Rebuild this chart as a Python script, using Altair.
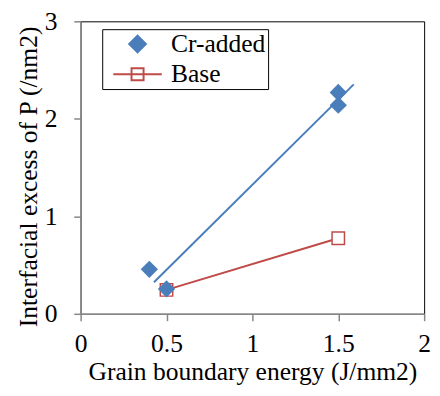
import altair as alt
import pandas as pd

series_names = ["Cr-added", "Base"]
cr_x = [0.40, 0.50, 1.50, 1.50]
cr_y = [0.456, 0.255, 2.27, 2.14]
base_x = [0.50, 1.50]
base_y = [0.245, 0.775]
x_ticks = [0, 0.5, 1, 1.5, 2]
y_ticks = [0, 1, 2, 3]
trend_extent = [0.427, 1.59]

blue = "#4a7ebb"
red = "#be4b48"
font = "Liberation Serif"
fs = 26

cr = pd.DataFrame({"x": cr_x, "y": cr_y, "series": series_names[0]})
base = pd.DataFrame({"x": base_x, "y": base_y, "series": series_names[1]})
allp = pd.concat([cr, base], ignore_index=True)

axis_common = dict(grid=False, domainColor="#868686", tickColor="#868686", tickSize=7,
                   domainWidth=1.5, tickWidth=1.5,
                   labelFont=font, labelFontSize=fs, labelColor="black",
                   titleFont=font, titleFontSize=fs, titleColor="black", titleFontWeight="normal")

xs = alt.Scale(domain=[0, 2], nice=False)
ys = alt.Scale(domain=[0, 3], nice=False)
xenc = alt.X("x:Q", scale=xs, axis=alt.Axis(
    values=x_ticks, title="Grain boundary energy (J/mm2)",
    labelExpr="datum.value == 0 ? '0' : format(datum.value, '.2~f')",
    labelPadding=10, titlePadding=3, labelFlush=False, labelOverlap=False, **axis_common))
yenc = alt.Y("y:Q", scale=ys, axis=alt.Axis(
    values=y_ticks, title="Interfacial excess of P (/nm2)", titleY=158,
    labelPadding=17, titlePadding=3, **axis_common))

trend = alt.Chart(cr).transform_regression("x", "y", extent=trend_extent).mark_line(
    color=blue, strokeWidth=2).encode(x=xenc, y=yenc)

base_line = alt.Chart(base).mark_line(color=red, strokeWidth=2).encode(x=xenc, y=yenc)
base_pts = alt.Chart(base).mark_point(shape="square", size=160, filled=False, fill="white",
                                      stroke=red, strokeWidth=1.5, opacity=1).encode(x=xenc, y=yenc)
cr_pts = alt.Chart(cr).mark_point(shape="diamond", size=310, filled=True, color=blue,
                                  opacity=1).encode(x=xenc, y=yenc)

legend_path = "M-2.9,0H2.9M-0.72,-0.72H0.72V0.72H-0.72Z"
leg = alt.Legend(title=None, orient="none", legendX=22, legendY=8, strokeColor="black",
                 padding=2, symbolOffset=21, labelOffset=21, rowPadding=5,
                 labelFont=font, labelFontSize=fs, labelColor="black",
                 symbolSize=290, symbolStrokeWidth=2, fillColor="white")
legend_layer = alt.Chart(allp).transform_filter("false").mark_point(filled=False, opacity=1).encode(
    x=xenc, y=yenc,
    shape=alt.Shape("series:N", scale=alt.Scale(domain=series_names, range=["diamond", legend_path]), legend=leg),
    fill=alt.Fill("series:N", scale=alt.Scale(domain=series_names, range=[blue, "white"]), legend=leg),
    stroke=alt.Stroke("series:N", scale=alt.Scale(domain=series_names, range=[blue, red]), legend=leg),
)

chart = alt.layer(trend, base_line, base_pts, cr_pts, legend_layer).properties(
    width=350, height=298,
    autosize=alt.AutoSizeParams(type="none"),
    padding={"left": 74, "top": 10, "right": 8, "bottom": 72},
).configure(font=font).configure_view(stroke="black", strokeWidth=1).configure_legend(
    labelFont=font, labelFontSize=fs, labelColor="black")

chart.save("out.html", embed_options={"renderer": "svg", "actions": False})
